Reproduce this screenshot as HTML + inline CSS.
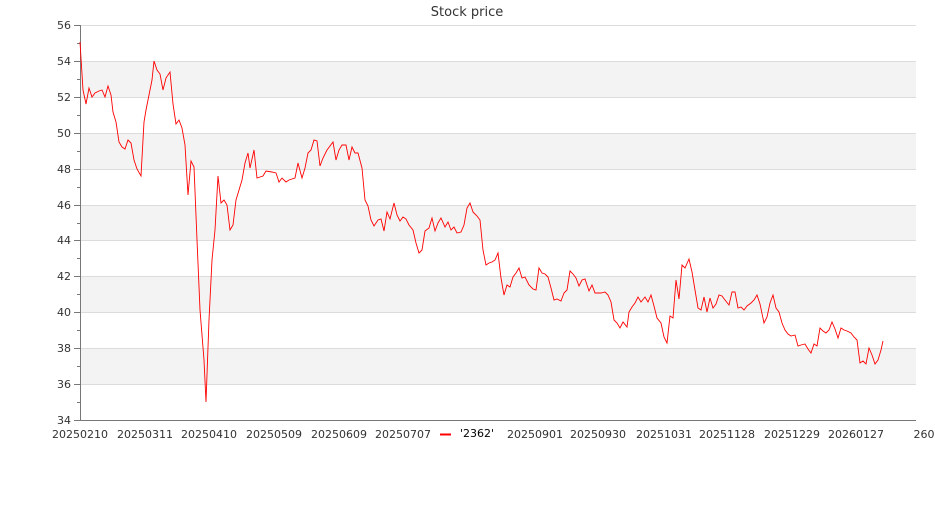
<!DOCTYPE html>
<html><head><meta charset="utf-8"><style>
html,body{margin:0;padding:0;background:#fff}
svg text{font-family:"DejaVu Sans","Liberation Sans",sans-serif;fill:#333}
</style></head><body>
<svg width="935" height="500" xmlns="http://www.w3.org/2000/svg">
<rect width="935" height="500" fill="#fff"/>
<g fill="#f3f3f3">
<rect x="80" y="61" width="836" height="36"/>
<rect x="80" y="133" width="836" height="36"/>
<rect x="80" y="205" width="836" height="36"/>
<rect x="80" y="276" width="836" height="36"/>
<rect x="80" y="348" width="836" height="36"/>
</g>
<g stroke="#dcdcdc" stroke-width="1">
<line x1="80" y1="25.5" x2="916" y2="25.5"/><line x1="80" y1="61.5" x2="916" y2="61.5"/>
<line x1="80" y1="97.5" x2="916" y2="97.5"/><line x1="80" y1="133.5" x2="916" y2="133.5"/>
<line x1="80" y1="169.5" x2="916" y2="169.5"/><line x1="80" y1="205.5" x2="916" y2="205.5"/>
<line x1="80" y1="240.5" x2="916" y2="240.5"/><line x1="80" y1="276.5" x2="916" y2="276.5"/>
<line x1="80" y1="312.5" x2="916" y2="312.5"/><line x1="80" y1="348.5" x2="916" y2="348.5"/>
<line x1="80" y1="384.5" x2="916" y2="384.5"/>
</g>
<g stroke="#777" stroke-width="1">
<line x1="80.5" y1="25" x2="80.5" y2="420"/>
<line x1="80" y1="420.5" x2="916" y2="420.5"/>
<line x1="74" y1="25.5" x2="80" y2="25.5"/><line x1="74" y1="61.5" x2="80" y2="61.5"/><line x1="74" y1="97.5" x2="80" y2="97.5"/><line x1="74" y1="133.5" x2="80" y2="133.5"/><line x1="74" y1="169.5" x2="80" y2="169.5"/><line x1="74" y1="205.5" x2="80" y2="205.5"/><line x1="74" y1="240.5" x2="80" y2="240.5"/><line x1="74" y1="276.5" x2="80" y2="276.5"/><line x1="74" y1="312.5" x2="80" y2="312.5"/><line x1="74" y1="348.5" x2="80" y2="348.5"/><line x1="74" y1="384.5" x2="80" y2="384.5"/><line x1="74" y1="420.5" x2="80" y2="420.5"/>
<line x1="77" y1="43.5" x2="80" y2="43.5"/><line x1="77" y1="79.5" x2="80" y2="79.5"/><line x1="77" y1="115.5" x2="80" y2="115.5"/><line x1="77" y1="151.5" x2="80" y2="151.5"/><line x1="77" y1="187.5" x2="80" y2="187.5"/><line x1="77" y1="223.5" x2="80" y2="223.5"/><line x1="77" y1="258.5" x2="80" y2="258.5"/><line x1="77" y1="294.5" x2="80" y2="294.5"/><line x1="77" y1="330.5" x2="80" y2="330.5"/><line x1="77" y1="366.5" x2="80" y2="366.5"/><line x1="77" y1="402.5" x2="80" y2="402.5"/>
</g>
<g font-size="11" text-anchor="end">
<text x="71" y="29">56</text><text x="71" y="65">54</text><text x="71" y="101">52</text><text x="71" y="137">50</text><text x="71" y="173">48</text><text x="71" y="209">46</text><text x="71" y="244">44</text><text x="71" y="280">42</text><text x="71" y="316">40</text><text x="71" y="352">38</text><text x="71" y="388">36</text><text x="71" y="424">34</text>
</g>
<g font-size="11" text-anchor="middle">
<text x="80" y="438">20250210</text><text x="145" y="438">20250311</text><text x="209" y="438">20250410</text><text x="274" y="438">20250509</text><text x="339" y="438">20250609</text><text x="403" y="438">20250707</text><text x="535" y="438">20250901</text><text x="598" y="438">20250930</text><text x="664" y="438">20251031</text><text x="727" y="438">20251128</text><text x="792" y="438">20251229</text><text x="856" y="438">20260127</text><text x="924" y="438">260</text>
</g>
<line x1="440" y1="434.5" x2="451" y2="434.5" stroke="#f00" stroke-width="2"/>
<text x="460" y="437" font-size="11" style="fill:#000">'2362'</text>
<text x="467" y="16" font-size="13" text-anchor="middle">Stock price</text>
<polyline fill="none" stroke="#f00" stroke-width="0.9" points="80,42 83,90 86,104 89,88 92,97 95,93 99,91 102,90 105,97 108,86 111,95 113,112 116,122 119,142 122,147 125,149 128,140 131,143 134,160 137,169 141,176 144,122 146,110 149,95 152,80 154,61 157,70 160,74 163,90 166,78 170,72 173,104 176,124 179,120 182,128 185,145 188,195 191,161 194,167 197,240 200,310 204,360 206,402 209,320 212,260 215,230 218,176 221,203 224,200 227,205 230,230 233,225 236,200 239,190 242,180 245,163 248,153 250,168 254,150 257,178 260,177 263,176 266,171 272,172 276,173 279,182 282,178 286,182 289,180 292,179 295,178 298,163 302,178 305,168 308,153 311,150 314,140 317,141 320,166 323,158 327,150 333,142 336,160 339,150 342,145 346,145 349,160 352,147 355,153 358,153 362,168 365,200 368,206 371,220 374,226 378,220 381,219 384,231 387,212 390,219 394,203 397,215 400,221 403,217 406,219 409,225 413,230 416,243 419,253 422,250 425,231 429,228 432,218 435,231 438,223 441,218 445,227 448,222 451,230 454,227 457,233 461,232 464,225 467,208 470,203 473,212 477,216 480,220 483,250 486,265 489,263 492,262 495,260 498,253 501,278 504,295 507,285 510,287 513,277 516,273 519,268 522,278 525,277 529,285 533,289 536,290 539,268 542,273 545,274 548,277 551,288 554,300 557,299 561,301 564,293 567,290 570,271 573,274 576,278 579,286 582,280 585,279 589,291 592,285 595,293 598,293 601,293 605,292 608,295 611,302 614,320 617,323 620,328 623,322 627,327 629,312 632,307 635,303 638,297 641,302 645,297 648,302 651,295 654,306 657,318 661,323 664,337 667,343 670,316 673,318 676,280 679,299 682,265 685,268 689,259 692,272 695,290 698,308 701,310 704,297 707,312 710,298 713,308 716,304 719,295 722,296 725,300 729,305 732,292 735,292 738,308 741,307 744,310 747,306 751,303 754,300 757,295 760,304 764,323 767,317 770,303 773,295 776,308 779,312 782,323 785,330 788,334 791,336 795,335 798,346 801,345 805,344 808,349 811,353 814,344 817,346 820,328 823,331 826,333 829,330 832,322 835,329 838,338 841,328 844,330 847,331 851,333 854,337 857,340 860,363 863,361 866,364 869,348 872,355 875,364 878,360 881,350 883,341"/>
</svg>
</body></html>
